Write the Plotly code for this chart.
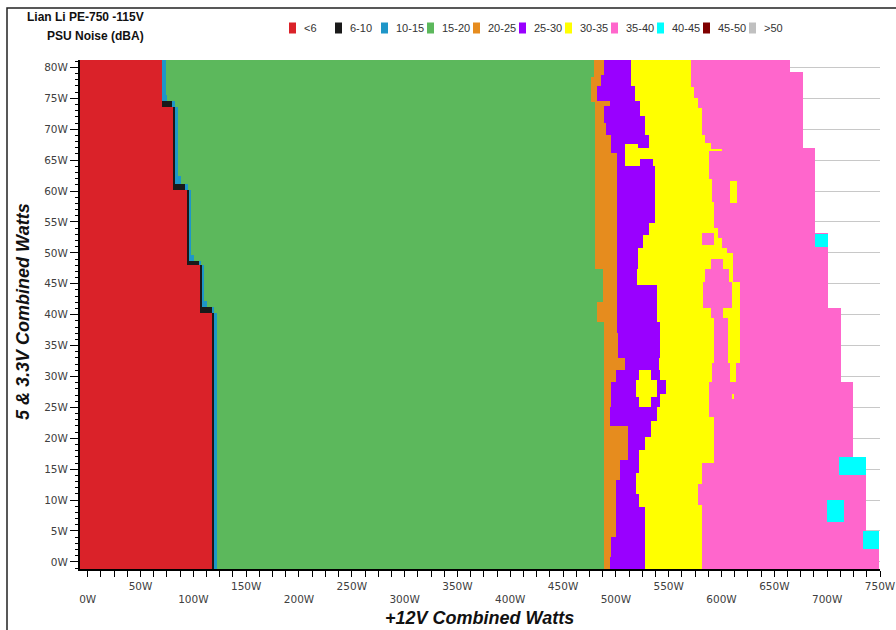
import numpy as np
import plotly.graph_objects as go

# ---------------- data ----------------
categories = ["<6", "6-10", "10-15", "15-20", "20-25", "25-30", "30-35",
              "35-40", "40-45", "45-50", ">50"]
colors = ["#DA2229", "#1A1A1A", "#1E96C8", "#5CB85C", "#E68C1E", "#9900FF",
          "#FFFF00", "#FF66CC", "#00FFFF", "#7F0000", "#C0C0C0"]

# right edge (in +12V watts) of each noise band, as steps over 5&3.3V watts:
# (from_y, x_edge)
edge_lt6 = [(-2, 117.4), (40.2, 106.3), (48.0, 93.1), (60.3, 80.5), (73.6, 70.3)]
edge_6_10 = [(-2, 119.6), (40.2, 117.4), (41.3, 108.5), (48.0, 105.5), (48.7, 95.3),
             (60.3, 92.5), (61.3, 82.7), (73.6, 80.0), (74.7, 70.8)]
edge_10_15 = [(-2, 122.6), (40.2, 120.0), (41.3, 113.0), (42.3, 111.0), (48.0, 108.0),
              (48.7, 101.0), (49.7, 97.8), (60.3, 95.0), (61.3, 88.5), (62.5, 85.3),
              (73.6, 83.0), (74.7, 76.0), (75.7, 74.6)]
edge_15_20 = [(-2, 488.3), (38.8, 481.6), (42.0, 487.8), (47.5, 480.2), (74.4, 476.4),
              (78.4, 479.7)]
edge_20_25 = [(-2, 494.4), (0.8, 496.0), (4.0, 499.2), (13.2, 503.9), (16.5, 511.7),
              (22.1, 494.4), (25.0, 496.0), (29.0, 499.2), (31.0, 508.6), (33.1, 502.0),
              (37.0, 500.4), (66.3, 495.7), (69.0, 490.9), (71.1, 488.7), (73.9, 494.1),
              (74.7, 481.5), (77.1, 485.6), (78.8, 488.7)]
edge_25_30 = [(-2, 527.6), (8.9, 521.2), (11.1, 518.1), (14.4, 521.2), (18.1, 527.6),
              (20.2, 533.9), (22.9, 538.6), (25.0, 541.7), (27.3, 547.7), (29.4, 541.7),
              (31.0, 540.1), (33.0, 541.5), (38.8, 538.2), (44.8, 519.3), (47.5, 521.0),
              (50.9, 525.7), (52.8, 532.0), (54.9, 537.0), (64.0, 508.3), (67.7, 532.0),
              (69.0, 527.3), (72.3, 522.5), (74.7, 517.8), (77.1, 514.6)]
edge_30_35 = [(-2, 581.2), (9.2, 578.0), (12.7, 581.2), (16.0, 592.2), (23.4, 587.5),
              (29.1, 591.0), (32.2, 592.2), (39.4, 589.1), (41.1, 582.7), (45.3, 584.4),
              (47.5, 589.1), (49.1, 610.9), (50.1, 604.2), (50.9, 600.2), (52.5, 596.9),
              (54.0, 592.2), (58.2, 590.7), (62.1, 587.5), (66.4, 600.5), (66.9, 589.1),
              (67.9, 584.4), (69.0, 581.2), (73.4, 578.0), (75.0, 573.3), (76.8, 570.2)]
edge_35_40 = [(-2, 748.4), (5.1, 736.7), (16.9, 724.7), (29.1, 712.2), (41.1, 700.1),
              (53.2, 688.5), (67.1, 676.8), (79.2, 664.2)]

# isolated pockets: (category index, x_from, x_to, y_from, y_to)
pockets = [
    (6, 521.2, 533.9, 29.4, 31.0), (6, 518.1, 538.6, 26.7, 29.4), (6, 521.2, 533.9, 25.0, 26.7),
    (5, 523.0, 534.2, 64.0, 65.3), (5, 521.0, 532.0, 67.1, 67.7),
    (7, 581.2, 592.2, 51.2, 53.2),
    (6, 601.7, 610.9, 47.5, 49.1), (6, 606.4, 610.9, 45.3, 47.5), (6, 609.6, 617.5, 41.1, 45.3),
    (6, 601.7, 617.5, 39.4, 41.1), (6, 605.2, 617.5, 32.2, 39.4), (6, 608.0, 613.7, 29.1, 32.2),
    (6, 608.0, 614.4, 58.1, 61.6), (6, 610.0, 611.5, 26.5, 27.3),
    (8, 688.8, 700.1, 51.1, 53.1), (8, 710.5, 736.7, 14.0, 17.0),
    (8, 699.5, 715.3, 6.5, 10.0), (8, 733.6, 748.4, 2.1, 5.0),
]

x_labels = [f"{v}W" for v in range(0, 751, 50)]
y_labels = [f"{v}W" for v in range(0, 81, 5)]

# ---------------- build grid ----------------
edges = [edge_lt6, edge_6_10, edge_10_15, edge_15_20, edge_20_25, edge_25_30,
         edge_30_35, edge_35_40]
xc = np.round(np.arange(-7.0, 750.01, 1.0), 3)
yc = np.round(np.arange(-1.1, 81.15, 0.2), 3)


def edge_at(edge, y):
    val = edge[0][1]
    for y0, x in edge:
        if y >= y0:
            val = x
    return val


z = np.full((len(yc), len(xc)), np.nan)
for i, y in enumerate(yc):
    bounds = np.array([edge_at(e, y) for e in edges])
    cat = np.searchsorted(bounds, xc, side="right").astype(float)
    cat[cat >= len(edges)] = np.nan
    z[i] = cat
for c, x0, x1, y0, y1 in pockets:
    xm = (xc >= x0) & (xc < x1)
    ym = (yc >= y0) & (yc < y1)
    z[np.ix_(ym, xm)] = c

n = len(categories)
cscale = []
for k, col in enumerate(colors):
    cscale.append([k / n, col])
    cscale.append([(k + 1) / n, col])

fig = go.Figure()
fig.add_trace(go.Heatmap(x=xc, y=yc, z=z, colorscale=cscale, zmin=-0.5, zmax=n - 0.5,
                         showscale=False, hoverinfo="skip", zsmooth=False))

# ---------------- layout ----------------
W, H = 896, 630
L, R, T, B = 80, 16, 60, 61


def px(xp):
    return (xp - L) / (W - L - R)


def py(yp):
    return (H - B - yp) / (H - T - B)


xt_vals = list(np.arange(0, 750.01, 12.5))
xt_text = []
for v in xt_vals:
    if v % 100 == 0:
        xt_text.append(" <br>" + f"{int(v)}W")
    elif v % 50 == 0:
        xt_text.append(f"{int(v)}W")
    else:
        xt_text.append("")

tickfont = dict(family="DejaVu Sans", size=10.5, color="#404040")
fig.update_layout(
    width=W, height=H, margin=dict(l=L, r=R, t=T, b=B, autoexpand=False),
    paper_bgcolor="white", plot_bgcolor="white", showlegend=False,
    xaxis=dict(range=[-7.3, 750], showline=True, linecolor="black", linewidth=2,
               ticks="outside", ticklen=6, tickcolor="black", tickwidth=1,
               tickvals=xt_vals, ticktext=xt_text, tickfont=tickfont,
               showgrid=False, zeroline=False, fixedrange=True),
    yaxis=dict(range=[-1.15, 81.2], showline=True, linecolor="black", linewidth=2,
               ticks="outside", ticklen=8, tickcolor="black", tickwidth=1,
               tickvals=list(range(0, 81, 5)), ticktext=y_labels, tickfont=tickfont,
               showgrid=True, gridcolor="#C8C8C8", gridwidth=1, zeroline=False,
               minor=dict(dtick=1, ticks="outside", ticklen=3, tickcolor="black",
                          showgrid=False),
               fixedrange=True),
)

ann = []
shapes = []
title_font = dict(family="Liberation Sans", size=12, color="#111111")
ann.append(dict(text="<b>Lian Li PE-750 -115V</b>", x=px(146), y=py(17), xref="paper",
                yref="paper", xanchor="right", yanchor="middle", showarrow=False,
                font=title_font))
ann.append(dict(text="<b>PSU Noise (dBA)</b>", x=px(146), y=py(36), xref="paper",
                yref="paper", xanchor="right", yanchor="middle", showarrow=False,
                font=title_font))
axis_font = dict(family="Liberation Sans", size=18, color="#111111")
ann.append(dict(text="<b><i>+12V Combined Watts</i></b>", x=px(479), y=py(618),
                xref="paper", yref="paper", xanchor="center", yanchor="middle",
                showarrow=False, font=axis_font))
ann.append(dict(text="<b><i>5 &amp; 3.3V Combined Watts</i></b>", x=px(23), y=py(312),
                xref="paper", yref="paper", xanchor="center", yanchor="middle",
                showarrow=False, font=axis_font, textangle=-90))

# legend
for k, (lab, col) in enumerate(zip(categories, colors)):
    lx = 289 + 46 * k
    shapes.append(dict(type="rect", xref="paper", yref="paper", x0=px(lx), x1=px(lx + 7),
                       y0=py(33.5), y1=py(22.5), fillcolor=col, line=dict(width=0)))
    ann.append(dict(text=lab, x=px(lx + 13), y=py(28), xref="paper", yref="paper",
                    xanchor="left", yanchor="middle", showarrow=False,
                    font=dict(family="Liberation Sans", size=11, color="#333333")))

# outer frame
shapes.append(dict(type="rect", xref="paper", yref="paper", x0=px(7), x1=px(910),
                   y0=py(645), y1=py(8), line=dict(color="#222222", width=1.5),
                   fillcolor="rgba(0,0,0,0)"))

fig.update_layout(annotations=ann, shapes=shapes)
fig.write_html("out.html")
